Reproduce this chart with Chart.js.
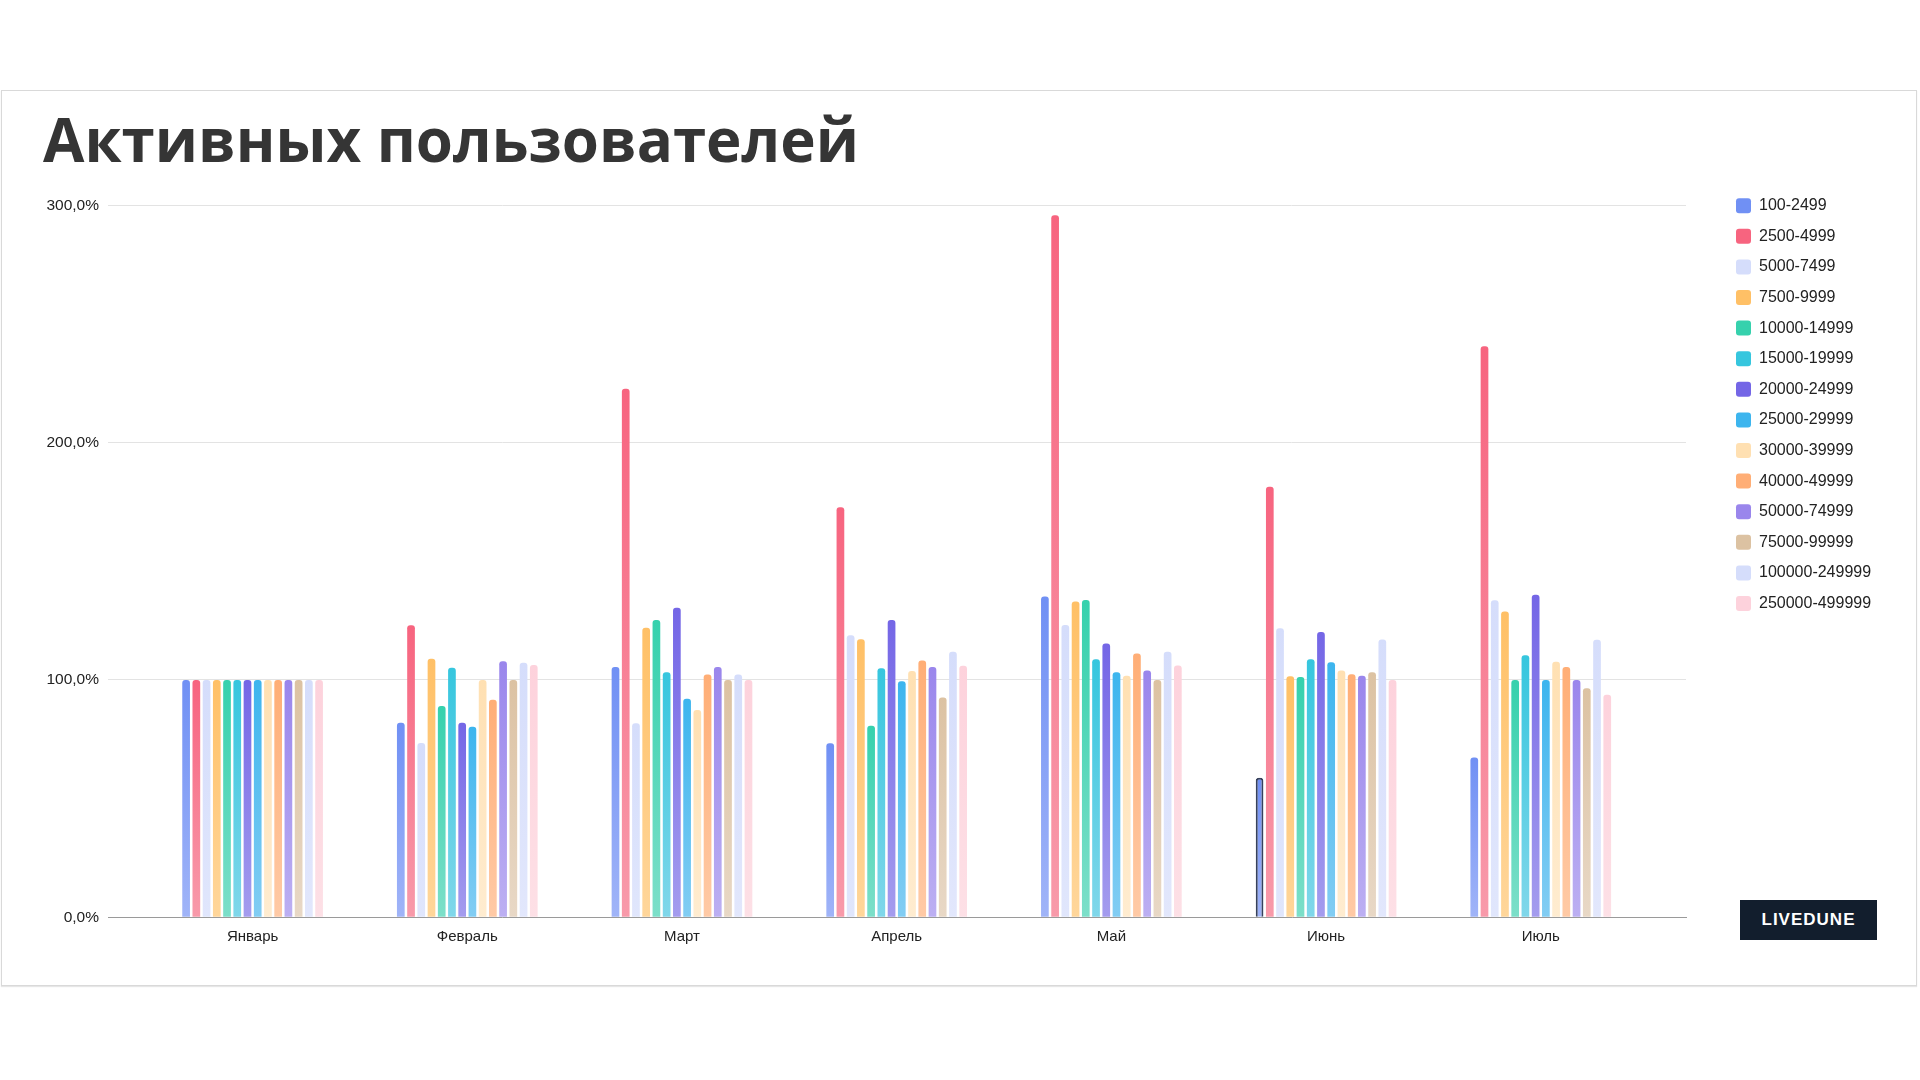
<!DOCTYPE html>
<html lang="ru">
<head>
<meta charset="utf-8">
<title>Активных пользователей</title>
<script src="https://cdn.jsdelivr.net/npm/chart.js@4.4.1/dist/chart.umd.min.js"></script>
<style>
  html, body { margin: 0; padding: 0; background: #fff; }
  body { width: 1920px; height: 1080px; position: relative; overflow: hidden; }
  .card { position: absolute; left: 1px; top: 90px; width: 1914px; height: 894px; border: 1px solid #d9d9d9; box-shadow: 0 1px 1px #e6e6e6; }
  .title { position: absolute; left: 43px; top: 109px; margin: 0; z-index: 2; font: 700 60px/60px 'Open Sans', sans-serif; color: #353535; white-space: nowrap; }
  #wrap { position: absolute; left: 0; top: 150px; width: 1920px; height: 850px; z-index: 1; }
  .badge { position: absolute; left: 1740px; top: 900px; width: 137px; height: 40px; z-index: 3; background: #121e2d; color: #fff; font: 700 17px/40px 'Liberation Sans', Arial, sans-serif; letter-spacing: 1px; text-align: center; }
</style>
</head>
<body>
<div class="card"></div>
<h1 class="title">Активных пользователей</h1>
<div id="wrap"><canvas id="barChart" width="1920" height="850"></canvas></div>
<div class="badge">LIVEDUNE</div>
<script>
const months = ['Январь', 'Февраль', 'Март', 'Апрель', 'Май', 'Июнь', 'Июль'];
const ranges = ['100-2499', '2500-4999', '5000-7499', '7500-9999', '10000-14999', '15000-19999', '20000-24999',
    '25000-29999', '30000-39999', '40000-49999', '50000-74999', '75000-99999', '100000-249999', '250000-499999'];

// % относительно января
const r100 = [100, 82, 105.5, 73.3, 135.2, 58.8, 67.3];
const r2500 = [100, 123.1, 222.7, 172.8, 295.8, 181.4, 240.6];
const r5000 = [100, 73.4, 81.8, 118.8, 123.2, 121.8, 133.6];
const r7500 = [100, 108.9, 122, 117.2, 133.1, 101.6, 128.9];
const r10000 = [100, 89, 125.3, 80.7, 133.7, 101.2, 100];
const r15000 = [100, 105.1, 103.2, 104.9, 108.7, 108.7, 110.4];
const r20000 = [100, 82, 130.4, 125.3, 115.4, 120.2, 135.9];
const r25000 = [100, 80.3, 92.1, 99.5, 103.2, 107.5, 100];
const r30000 = [100, 100, 87.3, 103.8, 101.8, 104, 107.7];
const r40000 = [100, 91.7, 102.3, 108.2, 111.1, 102.4, 105.5];
const r50000 = [100, 107.9, 105.5, 105.5, 104, 101.8, 100];
const r75000 = [100, 100, 100, 92.6, 100, 103.2, 96.5];
const r100000 = [100, 107.3, 102.3, 111.9, 111.9, 117, 116.9];
const r250000 = [100, 106.3, 100, 106, 106.1, 100, 93.8];
const seriesValues = [r100, r2500, r5000, r7500, r10000, r15000, r20000, r25000, r30000, r40000, r50000, r75000, r100000, r250000];

const yTicks = [0, 100, 200, 300];

const topColors = ['#7090f4', '#f7647f', '#d5ddfb', '#ffc066', '#36d1ad', '#36c6de', '#7466e6',
    '#3db5ee', '#ffe0b2', '#ffae76', '#9a86ec', '#dcc2a2', '#d5ddfb', '#fdd2dc'];
const bottomColors = ['#a0b4f8', '#f89aaa', '#e0e6fc', '#ffd69a', '#7cdfc9', '#80d7ea', '#a49cee',
    '#82cdf3', '#ffecd0', '#ffcaa6', '#bcaff2', '#e8d8c6', '#e2e7fc', '#fde0e6'];

Chart.defaults.font.family = "'Liberation Sans', Arial, sans-serif";

// градиент на каждый столбик: сверху насыщенный, снизу светлее
const barFill = (context, i) => {
    const chart = context.chart;
    const yScale = chart.scales.y;
    if (!yScale || context.raw == null) return topColors[i];
    const top = yScale.getPixelForValue(context.raw);
    const bottom = yScale.getPixelForValue(0);
    if (!isFinite(top) || !isFinite(bottom) || top === bottom) return topColors[i];
    const g = chart.ctx.createLinearGradient(0, top, 0, bottom);
    g.addColorStop(0, topColors[i]);
    g.addColorStop(1, bottomColors[i]);
    return g;
};

const datasets = ranges.map((label, i) => ({
    label: label,
    data: seriesValues[i],
    backgroundColor: (ctx) => barFill(ctx, i),
    borderColor: '#37415c',
    borderWidth: (ctx) => (i === 0 && ctx.dataIndex === 5 ? 2 : 0),
    borderRadius: 3,
    categoryPercentage: 0.667,
    barPercentage: 0.753,
    xAxisID: 'x',
    yAxisID: 'y'
}));

const ctx = document.getElementById('barChart').getContext('2d');
const barChart = new Chart(ctx, {
    type: 'bar',
    data: {
        labels: months,
        datasets: datasets
    },
    options: {
        responsive: false,
        animation: false,
        events: [],
        layout: {
            padding: { left: 0, right: 48.6, top: 33.1, bottom: 0 }
        },
        plugins: {
            legend: {
                position: 'right',
                align: 'start',
                maxWidth: 150,
                labels: {
                    boxWidth: 15,
                    boxHeight: 15,
                    padding: 14.6,
                    useBorderRadius: true,
                    borderRadius: 3,
                    color: '#222',
                    font: { size: 16 }
                }
            },
            tooltip: { enabled: false }
        },
        scales: {
            x: {
                type: 'category',
                grid: { display: false, drawTicks: false },
                border: { color: '#9a9a9a' },
                ticks: { color: '#222', font: { size: 15 }, padding: 10.5, maxRotation: 0, autoSkip: false },
                // по краям оси шире, чем половина категории
                afterBuildTicks: (s) => { s._startValue = -0.6735; s._valueRange = 7.35; },
                afterFit: (s) => { s.height = 82.7; }
            },
            xPad: {
                type: 'linear',
                position: 'top',
                grid: { display: false },
                border: { display: false },
                ticks: { display: false },
                afterFit: (s) => { s.height = 22.2; }
            },
            y: {
                min: yTicks[0],
                max: yTicks[yTicks.length - 1],
                afterBuildTicks: (s) => { s.ticks = yTicks.map(v => ({ value: v })); },
                ticks: {
                    padding: 9,
                    color: '#222',
                    font: { size: 15.5 },
                    callback: (v) => v.toFixed(1).replace('.', ',') + '%'
                },
                grid: {
                    color: (c) => (c.tick && c.tick.value === 0 ? 'rgba(0,0,0,0)' : '#e3e3e3'),
                    drawTicks: false
                },
                border: { display: false },
                afterFit: (s) => { s.width = 108; }
            },
            yPad: {
                type: 'linear',
                position: 'right',
                grid: { display: false },
                border: { display: false },
                ticks: { display: false },
                afterFit: (s) => { s.width = 35.4; }
            }
        }
    }
});
</script>
</body>
</html>
